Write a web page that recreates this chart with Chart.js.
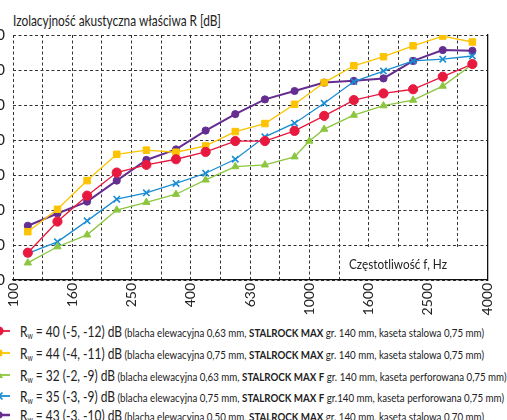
<!DOCTYPE html>
<html><head><meta charset="utf-8">
<script src="https://cdn.jsdelivr.net/npm/chart.js@4"></script>
<style>
html,body{margin:0;padding:0;background:#fff;overflow:hidden;width:507px;height:420px;}
body{position:relative;font-family:Lato,"Noto Sans",sans-serif;color:#222;}
#wrap{position:absolute;left:-27px;top:0;width:534px;height:320px;}
#title{position:absolute;left:13px;top:10px;font-size:15px;line-height:20px;white-space:nowrap;transform-origin:0 50%;}
.row{position:absolute;left:20px;height:20px;line-height:20px;white-space:nowrap;}
.big{font-size:16px;display:inline-block;transform-origin:0 50%;}
.big sub{font-size:9px;vertical-align:-2px;}
.small{font-size:11px;display:inline-block;transform-origin:0 50%;}
.mk{position:absolute;left:-12px;width:24px;height:20px;}
</style>
</head><body>
<div id="title">Izolacyjność akustyczna właściwa R [dB]</div>
<div id="wrap"><canvas id="c"></canvas></div>
<div id="legend"></div>
<script>
// ---- data ----
const xTickLabels = ['100','','160','','250','','400','','630','','1000','','1600','','2500','','4000'];
const yTicks = [0,10,20,30,40,50,60,70];
const slots = [0.5,1.5,2.5,3.5,4.5,5.5,6.5,7.5,8.5,9.5,10.5,11.5,12.5,13.5,14.5,15.5];
const greenSlots = [0.5,1.5,2.5,3.5,4.5,5.5,6.5,7.5,8.5,9.5,10,10.5,11.5,12.5,13.5,14.5,15.5];
const red    = [7.8,16.7,24.1,30.7,32.9,34.5,36.6,39.7,39.7,42.6,46.9,51.4,53.3,54.5,58.1,61.7];
const yellow = [13.8,20.2,28.4,35.9,37.1,36.5,38.3,42.4,44.7,50.2,56.4,61.2,63.8,66.9,69.7,68.0];
const green  = [4.9,9.5,12.9,20.0,22.2,24.5,28.6,32.4,32.9,35.2,39.7,43.1,47.1,49.8,51.4,55.4,61.6];
const blue   = [7.6,10.9,16.9,23.1,24.9,27.6,30.5,34.5,40.9,44.8,50.5,56.7,59.7,62.6,63.1,64.0];
const purple = [15.5,19.0,22.4,28.4,34.3,37.3,42.7,47.4,51.6,54.0,56.4,56.9,57.6,62.6,65.7,65.5];
const legendRw = ['40 (-5, -12) dB','44 (-4, -11) dB','32 (-2, -9) dB','35 (-3, -9) dB','43 (-3, -10) dB'];
const legendDetail = [
 ['(blacha elewacyjna 0,63 mm, ','STALROCK MAX',' gr. 140 mm, kaseta stalowa 0,75 mm)'],
 ['(blacha elewacyjna 0,75 mm, ','STALROCK MAX',' gr. 140 mm, kaseta stalowa 0,75 mm)'],
 ['(blacha elewacyjna 0,63 mm, ','STALROCK MAX F',' gr. 140 mm, kaseta perforowana 0,75 mm)'],
 ['(blacha elewacyjna 0,75 mm, ','STALROCK MAX F',' gr.140 mm, kaseta perforowana 0,75 mm)'],
 ['(blacha elewacyjna 0,50 mm, ','STALROCK MAX',' gr. 140 mm, kaseta stalowa 0,70 mm)']
];
const xAxisTitle = 'Częstotliwość f, Hz';

const colors = ['#e8193f','#fdc300','#8cc63f','#1a8dd4','#662d91'];
const styles = ['circle','rect','triangle','crossRot','circle'];
const radii = [4.6,4.6,4.2,4.5,3.6];
const widths = [1.3,1.3,1.3,1.3,2];
const seriesVals = [red,yellow,green,blue,purple];
const seriesPos = [slots,slots,greenSlots,slots,slots];

const FONT = 'Lato,"Noto Sans",sans-serif';
Chart.defaults.font.family = FONT;
Chart.defaults.color = '#222';

const datasets = seriesVals.map((vals,k)=>({
  label: legendRw[k],
  data: vals.map((v,i)=>({x:seriesPos[k][i], y:v})),
  borderColor: colors[k], backgroundColor: colors[k],
  borderWidth: widths[k], pointStyle: styles[k], pointRadius: radii[k],
  pointBorderWidth: styles[k]==='crossRot'?1.6:1, pointHoverRadius: radii[k],
  tension: 0, fill:false
}));

const labelPlugin = {
  id:'xlabel',
  afterDraw(chart){
    const {ctx, chartArea, scales} = chart;
    const xs = scales.x, ys = scales.y;
    const left = xs.getPixelForValue(11)+3;
    const top = ys.getPixelForValue(10)+2;
    ctx.save();
    ctx.fillStyle = '#fff';
    ctx.fillRect(left, top, chartArea.right-1-left, chartArea.bottom-1-top);
    ctx.fillStyle = '#222';
    ctx.font = '14px '+FONT;
    ctx.textBaseline = 'middle';
    const w = ctx.measureText(xAxisTitle).width;
    const tx = left+7, ty = (top+chartArea.bottom)/2+1;
    ctx.translate(tx, ty);
    ctx.scale(98/w, 1);
    ctx.fillText(xAxisTitle, 0, 0);
    ctx.restore();
  }
};

new Chart(document.getElementById('c'), {
  type:'line',
  data:{datasets},
  options:{
    responsive:true, maintainAspectRatio:false, animation:false,
    layout:{padding:{top:35,right:6,bottom:0,left:0}},
    plugins:{legend:{display:false}, title:{display:false}, tooltip:{enabled:false}},
    scales:{
      x:{type:'linear', min:0, max:16,
        afterFit(s){ s.height = 40; },
        afterBuildTicks(s){ s.ticks = xTickLabels.map((t,i)=>({value:i})); },
        ticks:{stepSize:1, autoSkip:false, minRotation:90, maxRotation:90, padding:3,
          font:{size:14}, color:'#222', callback:(v)=>xTickLabels[v]},
        grid:{color:'#333', lineWidth:1, drawTicks:false},
        border:{display:true, color:'#111', width:1.3, dash:[3,2.5]}
      },
      y:{type:'linear', min:0, max:70,
        afterFit(s){ s.width = 40; },
        afterBuildTicks(s){ s.ticks = yTicks.map(v=>({value:v})); },
        ticks:{padding:8, font:{size:15}, color:'#222'},
        grid:{color:'#333', lineWidth:1, drawTicks:false},
        border:{display:false, dash:[3,2.5]}
      },
      y2:{type:'linear', position:'right', min:0, max:70,
        afterFit(s){ s.width = 0; },
        ticks:{display:false}, grid:{display:false, drawTicks:false},
        border:{display:true, color:'#111', width:1.3}
      }
    }
  },
  plugins:[labelPlugin]
});

// ---- HTML legend ----
const rowCenters = [331,353,375,396,415];
const svgShape = (k)=>{
  const c = colors[k], cx=11, cy=10;
  let m='';
  if(styles[k]==='circle') m=`<circle cx="${cx}" cy="${cy}" r="${radii[k]}" fill="${c}"/>`;
  if(styles[k]==='rect') m=`<rect x="${cx-3.2}" y="${cy-3.2}" width="6.4" height="6.4" fill="${c}"/>`;
  if(styles[k]==='triangle') m=`<polygon points="${cx},${cy-4} ${cx+4},${cy+3} ${cx-4},${cy+3}" fill="${c}"/>`;
  if(styles[k]==='crossRot') m=`<path d="M${cx-3.5},${cy-3.5}L${cx+3.5},${cy+3.5}M${cx-3.5},${cy+3.5}L${cx+3.5},${cy-3.5}" stroke="${c}" stroke-width="1.6"/>`;
  return `<svg class="mk" viewBox="0 0 24 20"><line x1="0" y1="10" x2="22" y2="10" stroke="${c}" stroke-width="${widths[k]+0.5}"/>${m}</svg>`;
};
const leg = document.getElementById('legend');
const rows = [];
legendRw.forEach((rw,k)=>{
  const d = legendDetail[k];
  const mk = document.createElement('div');
  mk.style.cssText = `position:absolute;left:0;top:${rowCenters[k]-10}px;width:24px;height:20px;`;
  mk.innerHTML = svgShape(k);
  leg.appendChild(mk);
  const row = document.createElement('div');
  row.className='row';
  row.style.top = (rowCenters[k]-10)+'px';
  row.innerHTML = `<span class="big">R<sub>w</sub> = ${rw}</span><span class="small">&nbsp;${d[0]}<b>${d[1]}</b>${d[2]}</span>`;
  leg.appendChild(row);
  rows.push(row);
});
function fit(){
  const t = document.getElementById('title');
  t.style.transform='none';
  t.style.transform = `scaleX(${208/t.getBoundingClientRect().width})`;
  const bigs = rows.map(r=>r.querySelector('.big'));
  const smalls = rows.map(r=>r.querySelector('.small'));
  bigs.concat(smalls).forEach(e=>{e.style.transform='none'; e.style.marginRight='0px';});
  const sb = 102/bigs[0].getBoundingClientRect().width;
  const ss = 362/smalls[0].getBoundingClientRect().width;
  bigs.forEach(b=>{
    const w = b.getBoundingClientRect().width;
    b.style.transform = `scaleX(${sb})`;
    b.style.marginRight = ((sb-1)*w)+'px';
  });
  smalls.forEach(s=>{ s.style.transform = `scaleX(${ss})`; });
}
fit();
if(document.fonts && document.fonts.ready) document.fonts.ready.then(fit);
</script>
</body></html>
